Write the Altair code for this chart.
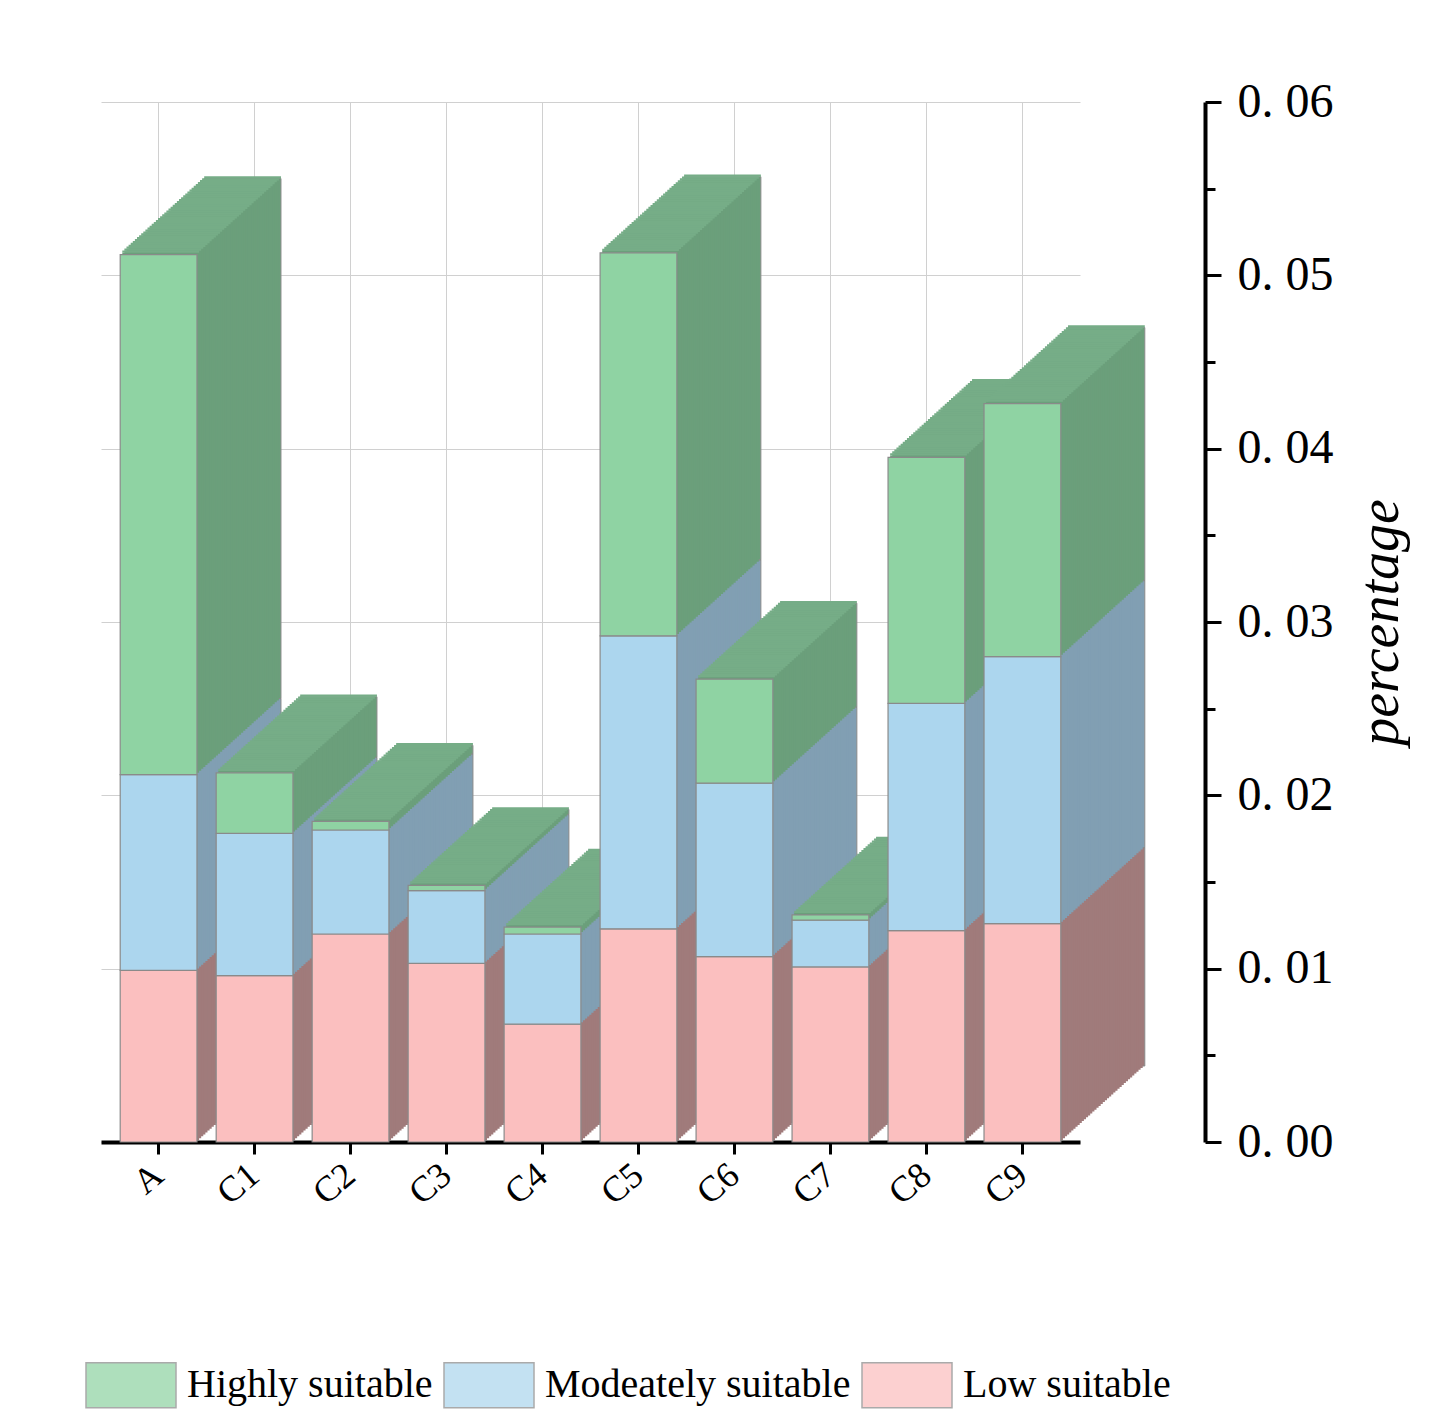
import altair as alt
import pandas as pd

# ---- data ----
categories = ["A", "C1", "C2", "C3", "C4", "C5", "C6", "C7", "C8", "C9"]
low_suitable = [0.0099, 0.0096, 0.0120, 0.0103, 0.0068, 0.0123, 0.0107, 0.0101, 0.0122, 0.0126]
moderately_suitable = [0.0113, 0.0082, 0.0060, 0.0042, 0.0052, 0.0169, 0.0100, 0.0027, 0.0131, 0.0154]
highly_suitable = [0.0300, 0.0035, 0.0005, 0.0003, 0.0004, 0.0221, 0.0060, 0.0003, 0.0142, 0.0146]
levels = ["Highly suitable", "Modeately suitable", "Low suitable"]
y_ticks = [0.0, 0.005, 0.01, 0.015, 0.02, 0.025, 0.03, 0.035, 0.04, 0.045, 0.05, 0.055, 0.06]

# ---- styles ----
front_colors = ["#8fd3a3", "#acd6ee", "#fbbfbf"]
side_colors = ["#6b9f7b", "#819fb3", "#a07b7b"]
top_color = "#76ad87"
edge = "#8a8a8a"
FONT = "Liberation Serif"
N = 40            # number of extrusion copies
SX, SY = 2.1, 1.9  # pixel step per copy

# ---- tables built from the arrays ----
rows = []
series = [("Low suitable", low_suitable, 0), ("Modeately suitable", moderately_suitable, 1),
          ("Highly suitable", highly_suitable, 2)]
side_of = {lvl: c for lvl, c in zip(levels, side_colors)}
for i, c in enumerate(categories):
    for lvl, vals, o in series:
        rows.append({"cat": c, "level": lvl, "ord": o, "value": vals[i], "side": side_of[lvl]})
df = pd.DataFrame(rows)
totals = pd.DataFrame({"cat": categories,
                       "total": [a + b + c for a, b, c in zip(low_suitable, moderately_suitable, highly_suitable)]})

major_test = "abs(datum.value*100 - round(datum.value*100)) < 0.01"

x_enc = alt.X("cat:N", sort=categories, title=None,
              scale=alt.Scale(paddingInner=0.2, paddingOuter=0.2),
              axis=alt.Axis(labelFont=FONT, labelFontSize=36, labelColor="black",
                            labelAngle=320, labelAlign="right", labelBaseline="middle",
                            labelPadding=16, domainColor="black", domainWidth=4,
                            tickColor="black", tickWidth=3, tickSize=12,
                            grid=True, gridColor="#d0d0d0", gridWidth=1))

y_scale = alt.Scale(domain=[0, 0.06], nice=False, zero=True)
y_axis = alt.Axis(orient="right", offset=125, values=y_ticks, title="percentage",
                  labelExpr="(abs(datum.value*100 - round(datum.value*100)) < 0.01) ? replace(format(datum.value, '.2f'), '.', '. ') : ''",
                  labelFont=FONT, labelFontSize=48, labelColor="black", labelPadding=16,
                  domainColor="black", domainWidth=4, tickColor="black", tickWidth=3,
                  tickSize={"condition": {"test": major_test, "value": 16}, "value": 10},
                  grid=True, gridColor="#d0d0d0", gridWidth=1,
                  gridOpacity={"condition": {"test": major_test, "value": 1}, "value": 0},
                  titleFont=FONT, titleFontSize=56, titleFontStyle="italic", titleFontWeight="normal",
                  titleColor="black", titleAngle=270, titleBaseline="top", titlePadding=20)

layers = []
for k in range(N, 0, -1):
    side = alt.Chart(df).mark_bar(
        xOffset=k * SX, yOffset=-k * SY, y2Offset=-k * SY,
        stroke=edge if k == N else "transparent", strokeWidth=1 if k == N else 0
    ).encode(
        x=x_enc,
        y=alt.Y("value:Q", stack="zero", scale=y_scale, axis=y_axis),
        color=alt.Color("side:N", scale=None),
        order=alt.Order("ord:Q"),
    )
    top = alt.Chart(totals).transform_calculate(
        top2="datum.total + 0.00013"
    ).mark_bar(
        xOffset=k * SX, yOffset=-k * SY, y2Offset=-k * SY, color=top_color
    ).encode(
        x=x_enc,
        y=alt.Y("total:Q", scale=y_scale, axis=y_axis),
        y2="top2:Q",
    )
    layers += [side, top]

front = alt.Chart(df).mark_bar(stroke=edge, strokeWidth=1.2).encode(
    x=x_enc,
    y=alt.Y("value:Q", stack="zero", scale=y_scale, axis=y_axis),
    color=alt.Color("level:N", scale=alt.Scale(domain=levels, range=front_colors),
                    legend=alt.Legend(orient="none", direction="horizontal", title=None,
                                      legendX=-16, legendY=1237,
                                      symbolType="M-1,-0.5H1V0.5H-1Z", symbolSize=8100,
                                      symbolStrokeColor=edge, symbolStrokeWidth=1.5,
                                      symbolOpacity=0.72, labelLimit=600,
                                      labelFont=FONT, labelFontSize=40, labelColor="black",
                                      labelOffset=10, columnPadding=8)),
    order=alt.Order("ord:Q"),
)
layers.append(front)

chart = alt.layer(*layers).properties(
    width=979, height=1040,
    padding={"left": 77, "top": 70, "right": 2, "bottom": 5},
    background="white",
).configure_view(strokeWidth=0)

chart.save("out.html", embed_options={"renderer": "svg", "actions": False})
